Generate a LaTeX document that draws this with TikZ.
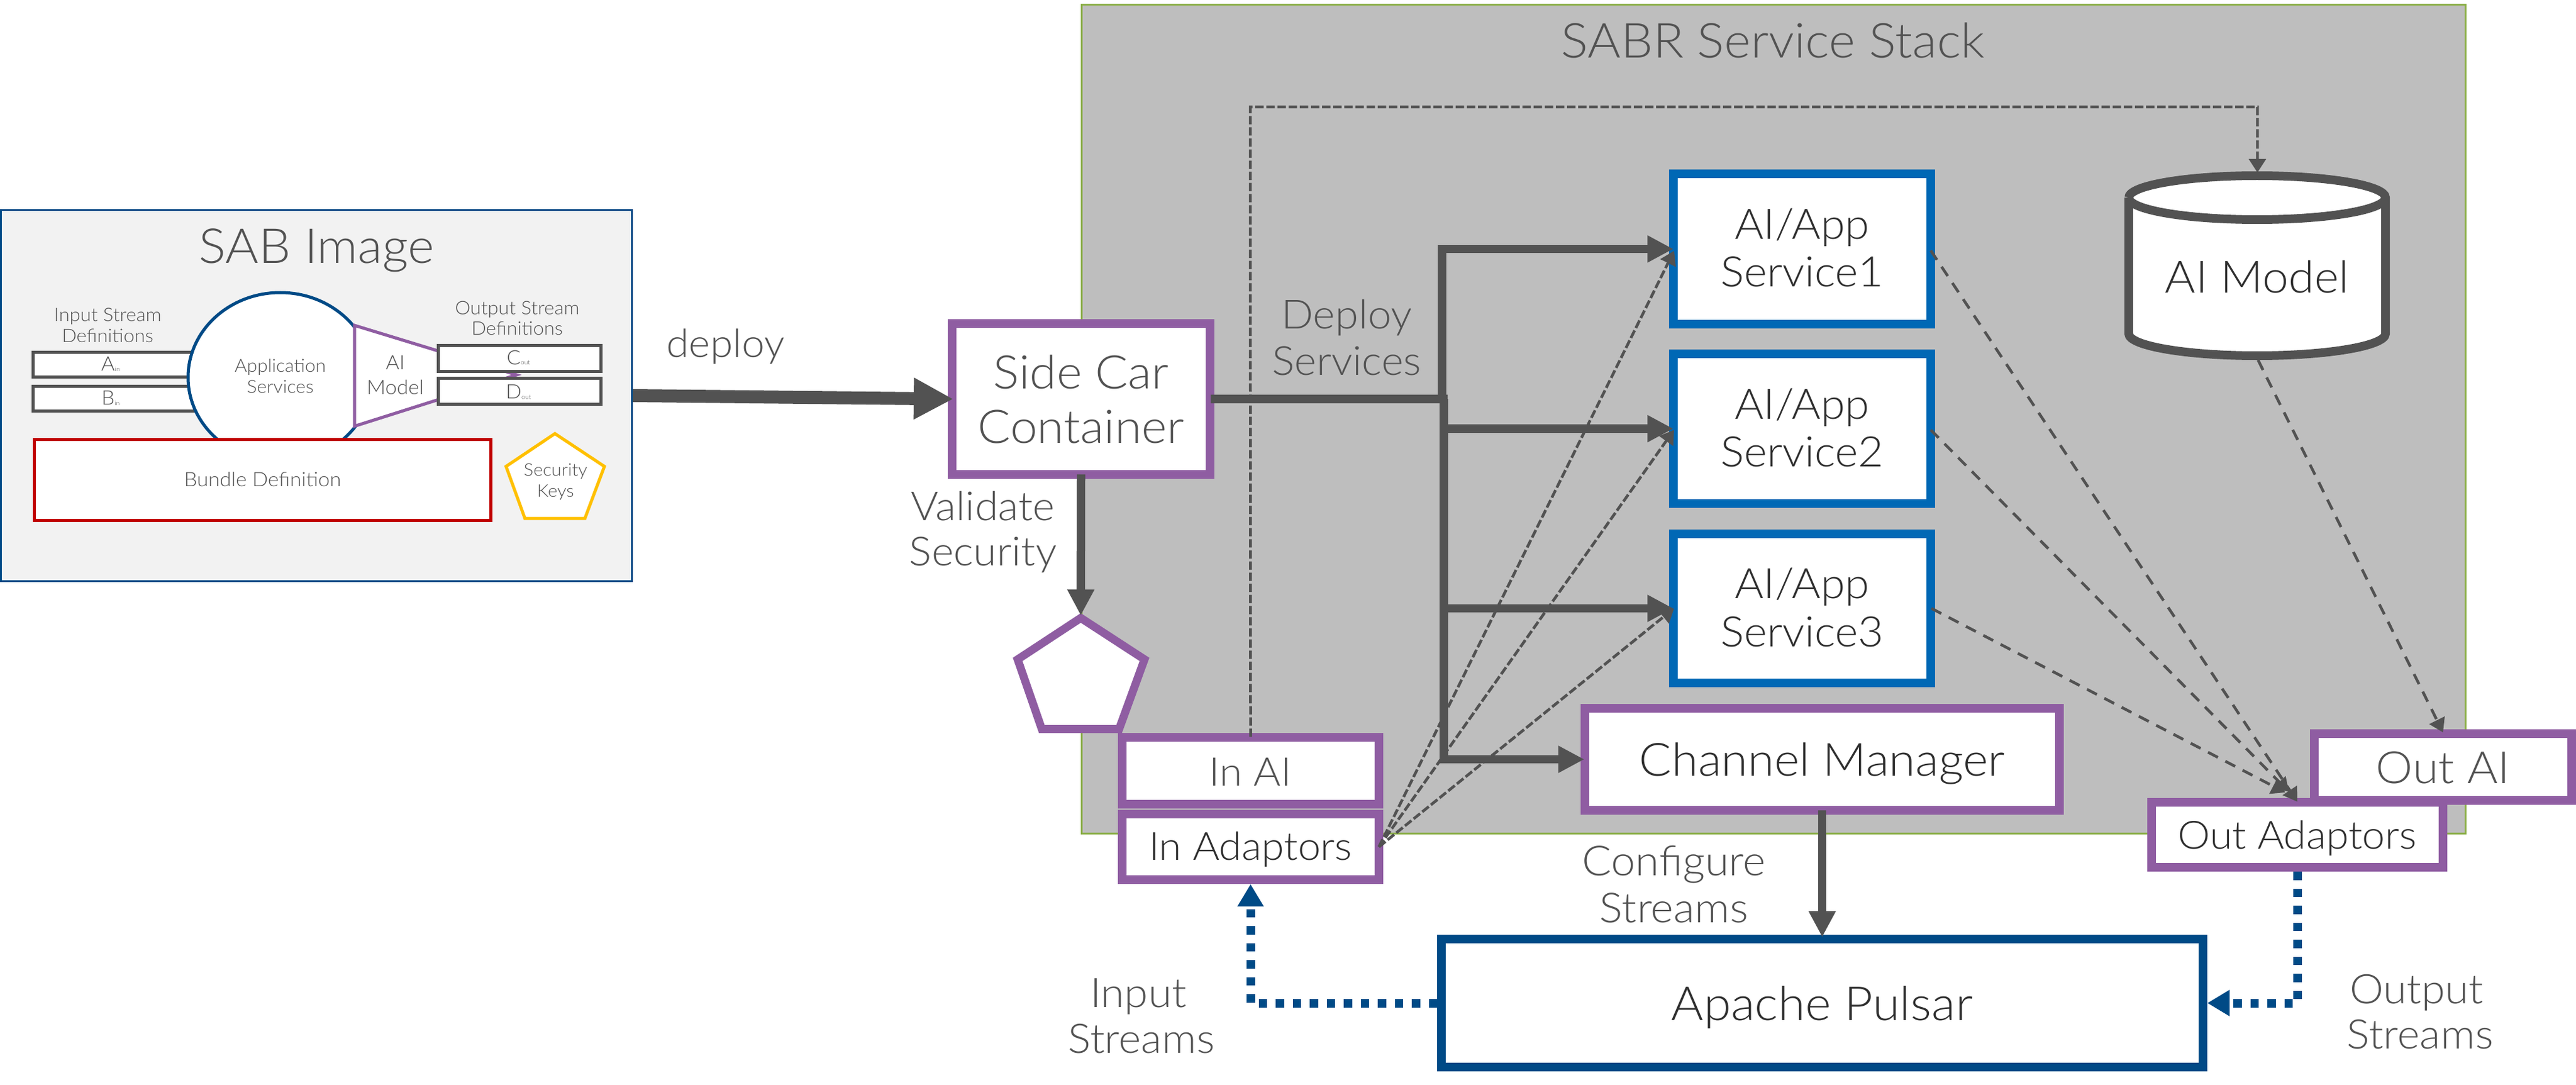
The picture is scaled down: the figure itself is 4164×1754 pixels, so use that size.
\documentclass[tikz,border=0pt]{standalone}
\usepackage{fontspec}
\setmainfont{Lato Light}[FakeStretch=1.05]
\usetikzlibrary{arrows.meta,shapes.geometric}
\newdimen\pxu \pxu=0.1mm
\newcommand\fz[1]{\fontsize{#1\pxu}{#1\pxu}\selectfont}
\newcommand\Lone[3][0]{\makebox[0pt][c]{\hspace*{#1\pxu}\raisebox{#2\pxu}[0pt][0pt]{#3}}}
\newcommand\sbs[1]{\raisebox{-1\pxu}{\fz{10}#1}}
\definecolor{grey}{HTML}{525252}
\definecolor{tdark}{HTML}{2E2E2E}
\definecolor{purp}{HTML}{8F5DA2}
\definecolor{navy}{HTML}{004A86}
\definecolor{svc}{HTML}{0068B5}
\definecolor{stackbg}{HTML}{BEBEBE}
\definecolor{stackln}{HTML}{8DB04A}
\definecolor{sabbg}{HTML}{F2F2F2}
\definecolor{redb}{HTML}{C00000}
\definecolor{yel}{HTML}{FFC000}
\tikzset{
  wh/.style 2 args={minimum width=#1*0.1mm,minimum height=#2*0.1mm},
  base/.style={rectangle,inner sep=0pt,fill=white},
  pbox/.style={base,draw=purp,line width=1.4mm,text=grey},
  sbox/.style={base,draw=svc,line width=1.4mm,text=tdark,font=\fz{68}},
  nbox/.style={base,draw=navy,line width=1.4mm,text=tdark,font=\fz{68}},
  gbox/.style={base,draw=grey,line width=.5mm,text=grey,font=\fz{32}},
  lab/.style={inner sep=0pt,text=grey},
  solidc/.style={draw=grey,line width=1.35mm,-{Triangle[length=4.2mm,width=4.1mm]}},
  thick arrow/.style={draw=grey,line width=2.1mm,-{Triangle[length=6.4mm,width=6.3mm]}},
  fan/.style={draw=grey,line width=.45mm,dash pattern=on 1.35mm off .45mm,-{Triangle[length=2.2mm,width=2.7mm]}},
  longd/.style={draw=grey,line width=.45mm,dash pattern=on 1.8mm off 1.35mm,-{Triangle[length=2.2mm,width=2.7mm]}},
  dotc/.style={draw=navy,line width=1.4mm,dash pattern=on 1.35mm off 1.4mm,-{Triangle[length=3.6mm,width=4mm]}},
}
\begin{document}
\begin{tikzpicture}[x=0.1mm,y=-0.1mm]
\useasboundingbox (0,0) rectangle (4164,1754);
% containers
\node[rectangle,inner sep=0pt,fill=stackbg,draw=stackln,line width=.3mm,wh={2237}{1340}] (stack) at (2867,677.5) {};
\node[lab,font=\fz{78}] (stacktitle) at (2866,94) {\Lone{0}{SABR Service Stack}};
\node[rectangle,inner sep=0pt,fill=sabbg,draw=navy,line width=.3mm,wh={1020}{600}] (sab) at (511.5,639.5) {};
\node[lab,font=\fz{78}] (sabtitle) at (512,426) {\Lone{0}{SAB Image}};
% SAB content
\node[lab,font=\fz{30}] (instr) at (174,553) {\Lone{34}{Input Stream}\Lone{0}{Definitions}};
\node[lab,font=\fz{30}] (outstr) at (836,542) {\Lone{33}{Output Stream}\Lone{0}{Definitions}};
\node[gbox,wh={266}{40}] (ain) at (186.75,589.5) {\Lone[-16]{-10.5}{A\sbs{in}}};
\node[gbox,wh={266}{40}] (bin) at (186.75,644.5) {\Lone[-16]{-10.5}{B\sbs{in}}};
\node[ellipse,inner sep=0pt,fill=white,draw=navy,line width=.5mm,wh={298}{274},text=grey,font=\fz{29}] (appsvc) at (453,610) {\Lone{8}{Application}\Lone{-26}{Services}};
\draw[purp,fill=white,line width=.5mm] (573,526) -- (835,606) -- (573,689) -- cycle;
\node[lab,font=\fz{32}] (aimini) at (639,610) {\Lone{12}{AI}\Lone{-28}{Model}};
\node[gbox,wh={263}{42}] (cout) at (840,579.5) {\Lone[-4]{-9.5}{C\sbs{out}}};
\node[gbox,wh={263}{42}] (dout) at (840,632.5) {\Lone[-4]{-12}{D\sbs{out}}};
\node[base,draw=redb,line width=.5mm,text=grey,font=\fz{32},wh={738}{131}] (bundle) at (424.5,776) {\Lone{-10.5}{Bundle Definition}};
\draw[yel,fill=white,line width=.5mm] (897,701) -- (977,754) -- (945.5,838) -- (848.5,838) -- (818,754) -- cycle;
\node[lab,font=\fz{28}] (keys) at (898,770) {\Lone{1}{Security}\Lone{-33}{Keys}};
% purple pentagon
\draw[purp,fill=white,line width=1.3mm] (1747,999) -- (1850,1066) -- (1809,1178.5) -- (1684,1178.5) -- (1645,1066) -- cycle;
\coordinate (pentT) at (1747,995);
% main boxes
\node[pbox,font=\fz{75},wh={417}{244}] (side) at (1747.5,645) {\Lone{17}{Side Car}\Lone{-71}{Container}};
\node[sbox,wh={416}{243}] (s1) at (2913,402.5) {\Lone{15.5}{AI/App}\Lone{-61.5}{Service1}};
\node[sbox,wh={416}{242}] (s2) at (2913,693) {\Lone{16}{AI/App}\Lone{-61}{Service2}};
\node[sbox,wh={416}{241}] (s3) at (2913,983.5) {\Lone{16.5}{AI/App}\Lone{-61.5}{Service3}};
\node[pbox,font=\fz{74},text=tdark,wh={767}{165}] (cm) at (2945.5,1227.5) {\Lone{-26.5}{Channel Manager}};
\node[nbox,font=\fz{76},wh={1231}{207}] (pulsar) at (2945.5,1621.5) {\Lone{-27.5}{Apache Pulsar}};
\node[pbox,font=\fz{64},wh={415}{108}] (inai) at (2021.5,1246) {\Lone{-24}{In AI}};
\node[pbox,font=\fz{63},text=tdark,wh={415}{106.5}] (inad) at (2021.5,1369) {\Lone{-21}{In Adaptors}};
\node[pbox,font=\fz{72},wh={416}{108}] (outai) at (3949,1240) {\Lone{-26}{Out AI}};
\node[pbox,font=\fz{63},text=tdark,wh={471}{105}] (outad) at (3713.5,1349.5) {\Lone{-22.5}{Out Adaptors}};
% cylinder
\draw[grey,fill=white,line width=1.4mm] (3441,319.5) -- (3441,539.5) arc[start angle=180,end angle=360,x radius=20.75mm,y radius=3.55mm] -- (3856,319.5) arc[start angle=0,end angle=180,x radius=20.75mm,y radius=3.55mm];
\draw[grey,line width=1.4mm] (3441,319.5) arc[start angle=180,end angle=360,x radius=20.75mm,y radius=3.55mm];
\node[lab,font=\fz{72},text=tdark] (cyl) at (3648.5,474) {\Lone{0}{AI Model}};
\coordinate (cylT) at (3649,279);
\coordinate (cylB) at (3650,582);
% labels
\node[lab,font=\fz{63}] (deploy) at (1173,577) {\Lone{0}{deploy}};
\node[lab,font=\fz{65}] (validate) at (1589,914) {\Lone{73}{Validate}\Lone{0}{Security}};
\node[lab,font=\fz{65}] (depsvc) at (2177,606) {\Lone{75}{Deploy}\Lone{0}{Services}};
\node[lab,font=\fz{67}] (config) at (2706,1491) {\Lone{76}{Configure}\Lone{0}{Streams}};
\node[lab,font=\fz{66}] (instreams) at (1845,1702) {\Lone[-10]{74}{Input}\Lone{0}{Streams}};
\node[lab,font=\fz{66}] (outstreams) at (3912,1695) {\Lone[-12]{73}{Output}\Lone{0}{Streams}};
% connectors
\coordinate (jct) at (2331,645);
\coordinate (jctb) at (2334,645);
\coordinate (jcte) at (2340,645);
\coordinate (c1) at (2021,173);
\coordinate (c2) at (3649,173);
\draw[thick arrow] (sab.east) -- ([xshift=.9mm]side.west);
\draw[solidc] ([yshift=.7mm]side.south) -- (pentT);
\draw[draw=grey,line width=1.4mm] ([xshift=-.6mm]side.east) -- (jcte);
\draw[solidc] (jct) |- ([xshift=.7mm]s1.west);
\draw[solidc] (jctb) |- ([xshift=.7mm]s2.west);
\draw[solidc] (jctb) |- ([xshift=.7mm]s3.west);
\draw[solidc] (jctb) |- ([xshift=.6mm]cm.west);
\draw[solidc] ([yshift=.7mm]cm.south) -- ([yshift=-.4mm]pulsar.north);
\draw[fan] ([xshift=-.7mm]inad.east) -- ([xshift=.8mm,yshift=-.3mm]s1.west);
\draw[fan] ([xshift=-.7mm]inad.east) -- ([xshift=.8mm,yshift=-.2mm]s2.west);
\draw[fan] ([xshift=-.7mm]inad.east) -- ([xshift=.8mm]s3.west);
\draw[fan] ([yshift=-.6mm]inai.north) -- (c1) -- (c2) -- (cylT);
\draw[longd] ([xshift=-.7mm,yshift=-.25mm]s1.east) -- ([yshift=-.6mm]outad.north);
\draw[longd] ([xshift=-.7mm,yshift=-.2mm]s2.east) -- ([xshift=-1.35mm,yshift=1mm]outad.north);
\draw[longd] ([xshift=-.6mm]s3.east) -- ([xshift=-1.95mm,yshift=.9mm]outad.north);
\draw[longd] (cylB) -- ([yshift=-.5mm]outai.north);
\draw[dotc] (pulsar.west) -| (inad.south);
\draw[dotc] (outad.south) |- (pulsar.east);
\end{tikzpicture}
\end{document}
